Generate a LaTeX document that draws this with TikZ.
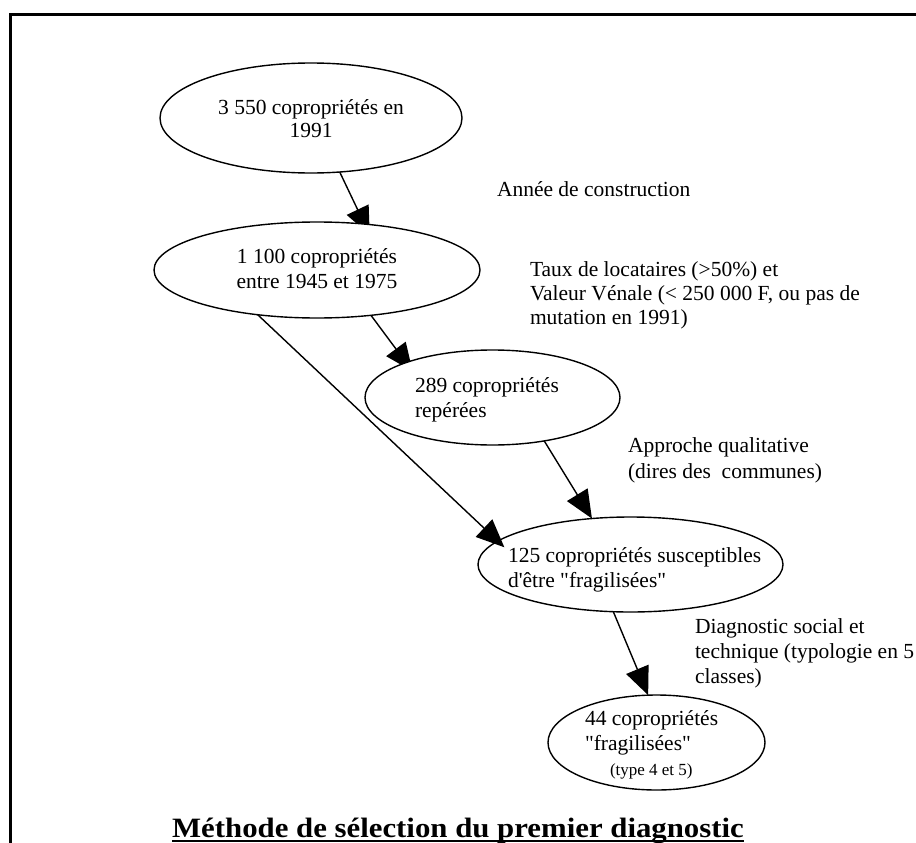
\documentclass[tikz,border=0pt]{standalone}
\usepackage{fontspec}
\usepackage{graphicx}
\setmainfont{Liberation Serif}
\newfontfamily\tnr{Liberation Serif}
\usetikzlibrary{shapes.geometric,arrows.meta,backgrounds}
\begin{document}
\begin{tikzpicture}[x=1pt,y=-1pt,
  every node/.style={inner sep=0pt, outer sep=0pt},
  txt/.style={font=\tnr\fontsize{21.5}{25}\selectfont},
  bub/.style={ellipse, draw, line width=1.4pt, fill=white, inner sep=0pt},
  lbl/.style={txt, align=left, anchor=base west},
  arr/.style={line width=1.4pt, -{Triangle[length=28pt,width=24pt]}}]
\useasboundingbox (0,0) rectangle (916,843);
% frame
\draw[line width=3pt] (10,870) -- (10,14.5) -- (950,14.5);
% ellipses
\node[bub, minimum width=302pt, minimum height=110pt] (e1) at (311,118) {};
\node[bub, minimum width=326pt, minimum height=96pt] (e2) at (317,270) {};
\node[bub, minimum width=255pt, minimum height=95pt] (e3) at (492.5,397.5) {};
\node[bub, minimum width=305pt, minimum height=95pt] (e4) at (630.5,564.5) {};
\node[bub, minimum width=217pt, minimum height=95pt] (e5) at (656.5,742.5) {};
% ellipse texts (anchor base = baseline of last line)
\node[txt, align=center, anchor=base, font=\tnr\fontsize{21.5}{23}\selectfont] (t1) at (311,137) {3 550 copropriétés en\\1991};
\node[txt, align=center, anchor=base] (t2) at (317,288) {1 100 copropriétés\\entre 1945 et 1975};
\node[lbl] (t3) at (415,417) {289 copropriétés\\repérées};
\node[lbl] (t4) at (508,587) {125 copropriétés susceptibles\\d'être "fragilisées"};
\node[lbl] (t5) at (585,775) {44 copropriétés\\"fragilisées"\\\hspace*{25pt}{\fontsize{17}{20}\selectfont(type 4 et 5)}};
% annotations
\node[lbl] (n1) at (497,196) {Année de construction};
\node[lbl, font=\tnr\fontsize{21.5}{24}\selectfont] (n2) at (530,324) {Taux de locataires (>50\%) et\\Valeur Vénale (< 250 000 F, ou pas de\\mutation en 1991)};
\node[lbl, font=\tnr\fontsize{21.5}{26}\selectfont] (n3) at (628,478) {Approche qualitative\\(dires des\ \ communes)};
\node[lbl] (n4) at (695,683) {Diagnostic social et\\technique (typologie en 5\\classes)};
% title
\node[anchor=base, font=\tnr\bfseries\fontsize{28}{32}\selectfont] (title) at (458,837) {\scalebox{1.1}[1]{Méthode de sélection du premier diagnostic}};
\draw[line width=1.5pt] ([yshift=-4pt]title.base west) -- ([yshift=-4pt]title.base east);
% arrows behind ellipses
\begin{pgfonlayer}{background}
\draw[arr, shorten >=-12pt] (e1.-62) -- (e2.44);
\draw[arr, shorten >=-11pt] (e2.-40) -- (e3.158);
\end{pgfonlayer}
% arrows in front
\draw[arr, shorten >=-9pt] (e2.-143) -- (e4.170);
\draw[arr] (e3.-40) -- (e4.130);
\draw[arr] (e4.-110) -- (e5.100);
\end{tikzpicture}
\end{document}
